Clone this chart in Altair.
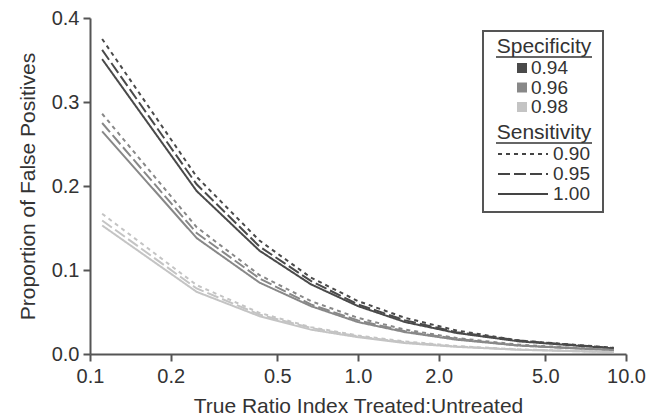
import altair as alt
import pandas as pd

ratio = [0.111, 0.25, 0.429, 0.667, 1.0, 1.5, 2.333, 4.0, 9.0]
spec_levels = ["0.94", "0.96", "0.98"]
sens_levels = ["0.90", "0.95", "1.00"]
x_ticks = [0.1, 0.2, 0.5, 1.0, 2.0, 5.0, 10.0]
y_ticks = [0.0, 0.1, 0.2, 0.3, 0.4]

fp_094_090 = [0.375, 0.211, 0.135, 0.091, 0.063, 0.043, 0.028, 0.016, 0.0074]
fp_094_095 = [0.362, 0.202, 0.128, 0.087, 0.059, 0.040, 0.026, 0.016, 0.0070]
fp_094_100 = [0.351, 0.194, 0.123, 0.083, 0.057, 0.038, 0.025, 0.015, 0.0066]
fp_096_090 = [0.286, 0.151, 0.094, 0.063, 0.043, 0.029, 0.019, 0.011, 0.0049]
fp_096_095 = [0.275, 0.144, 0.090, 0.059, 0.040, 0.027, 0.018, 0.010, 0.0047]
fp_096_100 = [0.265, 0.138, 0.085, 0.057, 0.038, 0.026, 0.017, 0.010, 0.0044]
fp_098_090 = [0.167, 0.082, 0.049, 0.032, 0.022, 0.015, 0.0094, 0.0055, 0.0025]
fp_098_095 = [0.159, 0.078, 0.047, 0.031, 0.021, 0.014, 0.0089, 0.0052, 0.0023]
fp_098_100 = [0.153, 0.074, 0.045, 0.029, 0.020, 0.013, 0.0085, 0.0050, 0.0022]

series = {
    ("0.94", "0.90"): fp_094_090,
    ("0.94", "0.95"): fp_094_095,
    ("0.94", "1.00"): fp_094_100,
    ("0.96", "0.90"): fp_096_090,
    ("0.96", "0.95"): fp_096_095,
    ("0.96", "1.00"): fp_096_100,
    ("0.98", "0.90"): fp_098_090,
    ("0.98", "0.95"): fp_098_095,
    ("0.98", "1.00"): fp_098_100,
}

rows = []
for (sp, se), vals in series.items():
    for r, v in zip(ratio, vals):
        rows.append({"ratio": r, "fp": v, "spec": sp, "sens": se, "key": sp + "_" + se})
df = pd.DataFrame(rows)

FONT = "Liberation Sans"
TXT = "#333333"
AX = "#555555"

color_scale = alt.Scale(domain=spec_levels, range=["#4a4a4a", "#888888", "#c4c4c4"])
dash_scale = alt.Scale(domain=sens_levels, range=[[4, 4], [12, 4], [1, 0]])

lines = alt.Chart(df).mark_line(strokeWidth=2).encode(
    x=alt.X("ratio:Q",
            scale=alt.Scale(type="log", domain=[0.1, 10]),
            axis=alt.Axis(values=x_ticks, format=".1f",
                          title="True Ratio Index Treated:Untreated",
                          labelFlush=False, labelPadding=5, titlePadding=9)),
    y=alt.Y("fp:Q",
            scale=alt.Scale(domain=[0, 0.4]),
            axis=alt.Axis(values=y_ticks, format=".1f",
                          title="Proportion of False Positives",
                          labelFlush=False, labelPadding=4, titlePadding=13)),
    color=alt.Color("spec:N", scale=color_scale, legend=None),
    strokeDash=alt.StrokeDash("sens:N", scale=dash_scale, legend=None),
    detail="key:N",
)

# ---- hand-built legend (layout only) ----
box = alt.Chart(pd.DataFrame({"b": [1]})).mark_rect(fill="white", fillOpacity=0, stroke=AX, strokeWidth=2).encode(
    x=alt.value(393), x2=alt.value(513), y=alt.value(13), y2=alt.value(194)
)

legend_titles = pd.DataFrame({"t": ["Specificity", "Sensitivity"], "py": [35, 121]})
titles = alt.Chart(legend_titles).mark_text(font=FONT, fontSize=21, color=TXT, align="center",
                                            baseline="alphabetic").encode(
    text="t:N", x=alt.value(454), y=alt.Y("py:Q", scale=None)
)

u1 = alt.Chart(pd.DataFrame({"u": [1]})).mark_rule(color=TXT, strokeWidth=1.5).encode(
    x=alt.value(406), x2=alt.value(502), y=alt.value(39))
u2 = alt.Chart(pd.DataFrame({"u": [1]})).mark_rule(color=TXT, strokeWidth=1.5).encode(
    x=alt.value(406), x2=alt.value(502), y=alt.value(125))

spec_leg = pd.DataFrame({"spec": spec_levels, "py": [50, 69.5, 89]})
spec_sym = alt.Chart(spec_leg).mark_square(size=100, opacity=1, filled=True).encode(
    x=alt.value(432), y=alt.Y("py:Q", scale=None),
    color=alt.Color("spec:N", scale=color_scale, legend=None))
spec_txt = alt.Chart(spec_leg).mark_text(font=FONT, fontSize=19, color=TXT, align="left",
                                         baseline="middle").encode(
    x=alt.value(441), y=alt.Y("py:Q", scale=None), text="spec:N")

sens_leg = pd.DataFrame({"sens": sens_levels, "py": [136, 156, 176]})
sens_sym = alt.Chart(sens_leg).mark_rule(strokeWidth=2, color="#444444").encode(
    x=alt.value(408), x2=alt.value(458), y=alt.Y("py:Q", scale=None),
    strokeDash=alt.StrokeDash("sens:N", scale=dash_scale, legend=None))
sens_txt = alt.Chart(sens_leg).mark_text(font=FONT, fontSize=19, color=TXT, align="left",
                                         baseline="middle").encode(
    x=alt.value(463), y=alt.Y("py:Q", scale=None), text="sens:N")

chart = alt.layer(lines, box, titles, u1, u2, spec_sym, spec_txt, sens_sym, sens_txt).properties(
    width=536, height=336,
    autosize=alt.AutoSizeParams(type="none"),
    padding={"left": 82, "top": 10, "right": 20, "bottom": 62},
).configure_view(strokeWidth=0).configure_axis(
    grid=False, domainColor=AX, domainWidth=2, tickColor=AX, tickWidth=2, tickSize=7,
    labelFont=FONT, labelFontSize=20, labelColor=TXT,
    titleFont=FONT, titleFontSize=21, titleFontWeight="normal", titleColor=TXT,
)

chart.save("out.html", embed_options={"renderer": "svg", "actions": False})
